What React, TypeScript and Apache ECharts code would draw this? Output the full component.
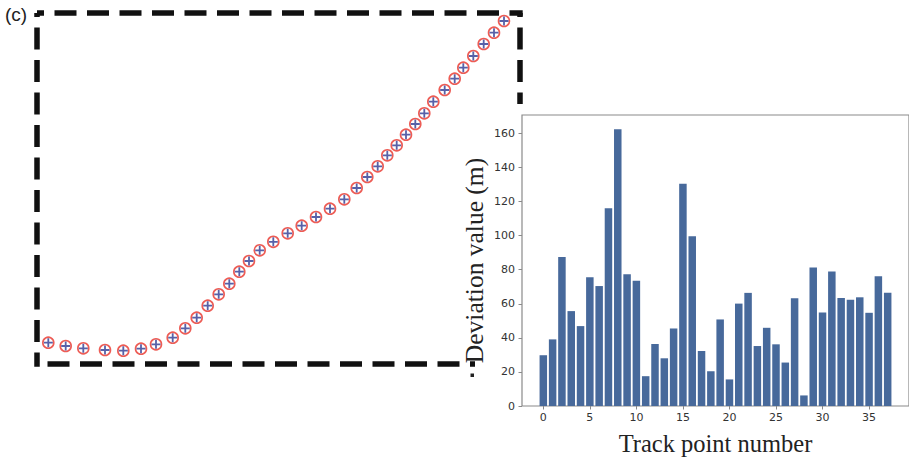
import React, { useEffect, useRef } from "react";
import * as echarts from "echarts";

// Bar chart data: track point number and deviation value (m)
const trackIndex = [0,1,2,3,4,5,6,7,8,9,10,11,12,13,14,15,16,17,18,19,20,21,22,23,24,25,26,27,28,29,30,31,32,33,34,35,36,37];
const deviation = [29.8,39.1,87.4,55.7,46.9,75.5,70.4,116.1,162.5,77.4,73.5,17.5,36.4,28,45.5,130.5,99.6,32.3,20.4,50.8,15.6,60.1,66.4,35.2,45.9,36.2,25.5,63.3,6.2,81.3,54.9,79,63.4,62.4,63.8,54.7,76.1,66.5];
const xTicks = [0,5,10,15,20,25,30,35];
const yTicks = [0,20,40,60,80,100,120,140,160];

// Trajectory (panel c), in arbitrary plane units
const trackX = [11.3,28.7,46.3,68,86.3,104,119,135.7,148.3,159.7,170.7,181.7,192.3,202.3,212,222.7,236.3,250.7,264.7,279,293,307.3,319.7,330.3,340.7,350.3,359.7,369,378.3,387.3,396.3,407.7,417.7,426.3,436.3,446.7,457,467];
const trackY = [21.3,18,15.7,14,13.3,15.3,19.7,26.3,35.7,46.3,58.3,69.7,80.3,92.3,103,113.7,122.2,130.7,138.3,147,155.3,164.7,176,187,197.7,208.7,218.7,229.3,240,250.7,262.3,274,285.3,296.3,308,320,331.3,343];

export default function App() {
  const ref = useRef<HTMLDivElement>(null);
  useEffect(() => {
    if (!ref.current) return;
    const chart = echarts.init(ref.current, null, { renderer: "svg" });
    const barData = trackIndex.map((i, k) => [i, deviation[k]]);
    const trackData = trackX.map((x, k) => [x, trackY[k]]);
    const dash = [22, 10.5];
    const lineStyle = (off: number) => ({ stroke: "#111", lineWidth: 5.5, lineDash: dash, lineDashOffset: off });
    chart.setOption({
      animation: false,
      backgroundColor: "#ffffff",
      grid: [
        { left: 522, top: 115, right: -6, bottom: 53, show: true, borderColor: "#8a8a8a", borderWidth: 1.2, backgroundColor: "#ffffff", containLabel: false },
        { left: 37, top: 13, width: 483, height: 351, containLabel: false },
      ],
      xAxis: [
        {
          type: "value", gridIndex: 0, min: -2.29, max: 39.29,
          name: "Track point number", nameLocation: "middle", nameGap: 25,
          nameTextStyle: { fontFamily: "Liberation Serif", fontSize: 24.5, color: "#222" },
          axisLine: { show: false, onZero: false },
          splitLine: { show: false },
          axisTick: { show: true, length: 3.5, customValues: xTicks, lineStyle: { color: "#8a8a8a" } },
          axisLabel: { customValues: xTicks, fontFamily: "DejaVu Sans", fontSize: 11, color: "#333", margin: 6 },
        },
        { type: "value", gridIndex: 1, min: 0, max: 483, show: false },
      ],
      yAxis: [
        {
          type: "value", gridIndex: 0, min: 0, max: 170.8,
          name: "Deviation value (m)", nameLocation: "middle", nameGap: 35,
          nameTextStyle: { fontFamily: "Liberation Serif", fontSize: 25.5, color: "#222" },
          axisLine: { show: false, onZero: false },
          splitLine: { show: false },
          axisTick: { show: true, length: 3.5, customValues: yTicks, lineStyle: { color: "#8a8a8a" } },
          axisLabel: { customValues: yTicks, fontFamily: "DejaVu Sans", fontSize: 11, color: "#333", margin: 7 },
        },
        { type: "value", gridIndex: 1, min: 0, max: 351, show: false },
      ],
      series: [
        {
          type: "bar", xAxisIndex: 0, yAxisIndex: 0, data: barData, barWidth: 7.5,
          itemStyle: { color: "#47699b" },
        },
        {
          type: "scatter", xAxisIndex: 1, yAxisIndex: 1, data: trackData, symbol: "circle", symbolSize: 11,
          itemStyle: { color: "rgba(255,255,255,0)", borderColor: "#e8332b", borderWidth: 1.6 },
        },
        {
          type: "scatter", xAxisIndex: 1, yAxisIndex: 1, data: trackData,
          symbol: "path://M4,0H6V4H10V6H6V10H4V6H0V4H4Z", symbolSize: 9,
          itemStyle: { color: "#2d3a92" },
        },
      ],
      graphic: [
        { type: "line", shape: { x1: 37, y1: 13, x2: 522.7, y2: 13 }, style: lineStyle(14.5) },
        { type: "line", shape: { x1: 37, y1: 13, x2: 37, y2: 366.7 }, style: lineStyle(17.5) },
        { type: "line", shape: { x1: 520, y1: 13, x2: 520, y2: 104 }, style: lineStyle(17.5) },
        { type: "line", shape: { x1: 37, y1: 364, x2: 475, y2: 364 }, style: lineStyle(21.5) },
        { type: "text", left: 5, top: 5, style: { text: "(c)", font: "19px 'Liberation Sans'", fill: "#222" } },
        { type: "rect", shape: { x: 470.5, y: 373.5, width: 3.5, height: 3.5 }, style: { fill: "#222" } },
      ],
    });
    return () => chart.dispose();
  }, []);
  return <div ref={ref} style={{ position: "fixed", left: 0, top: 0, width: 909, height: 461 }} />;
}
